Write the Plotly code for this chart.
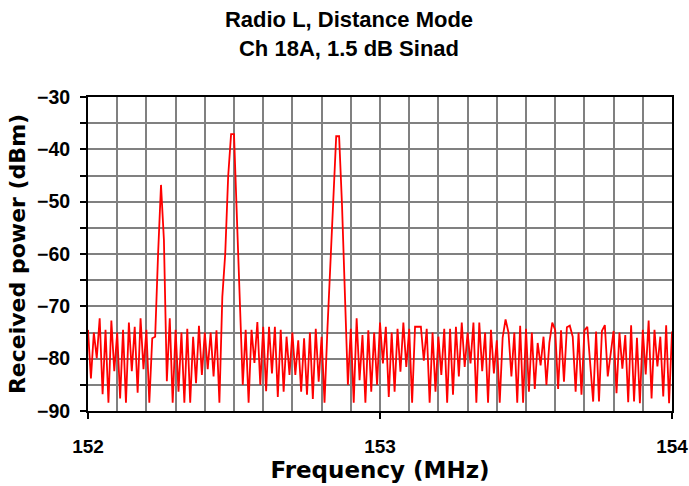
import numpy as np
import plotly.graph_objects as go

# Spectrum sweep: 152-154 MHz, one reading every 0.01 MHz
freq_start = 152.0
freq_step = 0.01

# Received power (dBm) in four half-MHz pieces
power_152_0 = [
    -74.5, -83.8, -75.0, -79.9, -72.3, -86.8, -74.5, -88.4, -72.7, -82.4,
    -75.0, -87.6, -74.5, -88.4, -73.1, -82.4, -73.9, -86.5, -72.3, -82.0,
    -74.5, -88.4, -76.1, -75.8, -60.0, -46.8, -57.3, -84.3, -72.3, -88.4,
    -74.5, -86.3, -75.0, -88.4, -74.3, -88.4, -75.8, -84.7, -73.7, -83.1,
    -75.0, -82.0, -75.0, -83.4, -74.6, -88.4, -68.2, -59.9, -45.2, -37.1,
    -37.1,
]
power_152_5 = [
    -52.0, -70.0, -85.0, -74.5, -88.4, -74.5, -80.8, -73.0, -85.0, -73.9,
    -86.2, -73.9, -82.8, -73.9, -87.3, -74.5, -86.3, -75.8, -83.1, -75.0,
    -83.1, -76.5, -86.3, -76.1, -86.9, -75.0, -87.7, -74.3, -84.4, -75.8,
    -88.4, -74.3, -61.6, -48.9, -37.5, -37.5, -50.8, -68.0, -85.0, -74.3,
    -88.4, -72.3, -84.1, -75.5, -88.4, -74.6, -86.3, -75.0, -85.0, -73.1,
]
power_153_0 = [
    -80.9, -73.9, -87.3, -75.0, -86.3, -74.3, -82.5, -73.1, -81.6, -74.3,
    -88.4, -73.9, -73.9, -73.9, -80.4, -74.3, -88.4, -75.0, -86.3, -75.8,
    -83.1, -74.3, -88.4, -74.3, -86.9, -73.9, -83.4, -73.1, -81.6, -75.0,
    -80.9, -73.1, -88.4, -73.1, -82.4, -75.0, -88.4, -74.5, -82.8, -76.5,
    -88.4, -76.0, -72.5, -75.0, -83.4, -75.0, -88.4, -73.7, -88.4, -74.3,
]
power_153_5 = [
    -86.3, -75.0, -85.8, -77.0, -81.3, -75.8, -85.0, -77.0, -73.1, -74.5,
    -85.8, -74.6, -84.4, -74.0, -73.7, -75.8, -86.3, -75.0, -86.9, -74.6,
    -73.9, -81.0, -88.2, -74.8, -88.2, -74.7, -73.6, -83.4, -79.0, -74.7,
    -86.6, -75.0, -81.9, -75.5, -88.3, -73.6, -88.2, -76.0, -88.5, -74.5,
    -83.0, -72.7, -87.6, -74.5, -81.5, -75.8, -87.2, -73.6, -88.5, -74.8,
]

power = power_152_0 + power_152_5 + power_153_0 + power_153_5
freq = np.round(freq_start + freq_step * np.arange(len(power)), 2)

fig = go.Figure()
fig.add_trace(go.Scatter(
    x=freq, y=power,
    mode='lines',
    line=dict(color='#ff0000', width=1.8),
    hoverinfo='x+y',
))

W, H = 689, 486

fig.update_layout(
    width=W, height=H,
    margin=dict(l=88, r=17, t=97, b=75, autoexpand=False),
    paper_bgcolor='white',
    plot_bgcolor='white',
    showlegend=False,
    title=dict(
        text='<b>Radio L, Distance Mode<br>Ch 18A, 1.5 dB Sinad</b>',
        font=dict(family='Liberation Sans, Arial', size=22, color='black'),
        x=349 / W, xref='container', xanchor='center',
        y=1 - 27 / H, yref='container', yanchor='middle',
        automargin=False,
    ),
)

fig.update_xaxes(
    range=[152, 154],
    tickvals=[152, 153, 154],
    ticktext=['152', '153', '154'],
    ticks='outside', ticklen=6, tickwidth=1.5, tickcolor='black',
    tickfont=dict(family='Liberation Sans, Arial', size=19, color='black', weight='bold'),
    ticklabelstandoff=11,
    showgrid=True, gridcolor='#808080', gridwidth=1.5,
    minor=dict(dtick=0.1, tick0=152, showgrid=True, gridcolor='#808080', gridwidth=1.5, ticks=''),
    showline=True, linecolor='black', linewidth=2, mirror=True,
    zeroline=False,
    automargin=False,
    title=dict(text='Frequency (MHz)',
               font=dict(family='DejaVu Sans', size=23, color='black', weight='bold'),
               standoff=3),
)

fig.update_yaxes(
    range=[-90, -30],
    tick0=-90, dtick=10,
    ticks='outside', ticklen=6, tickwidth=1.5, tickcolor='black',
    tickfont=dict(family='Liberation Sans, Arial', size=19.5, color='black', weight='bold'),
    ticklabelstandoff=6,
    showgrid=True, gridcolor='#808080', gridwidth=1.5,
    minor=dict(dtick=5, tick0=-90, showgrid=True, gridcolor='#808080', gridwidth=1.5,
               ticks='outside', ticklen=6, tickwidth=1.5, tickcolor='black'),
    showline=True, linecolor='black', linewidth=2, mirror=True,
    zeroline=False,
    automargin=False,
    title=dict(text='Received power (dBm)',
               font=dict(family='DejaVu Sans', size=22, color='black', weight='bold'),
               standoff=5),
)

# drop the browser's default 8px page margin so the figure fills the window
fig.write_html('out.html',
               config={'displayModeBar': False},
               post_script="document.body.style.margin='0';")
